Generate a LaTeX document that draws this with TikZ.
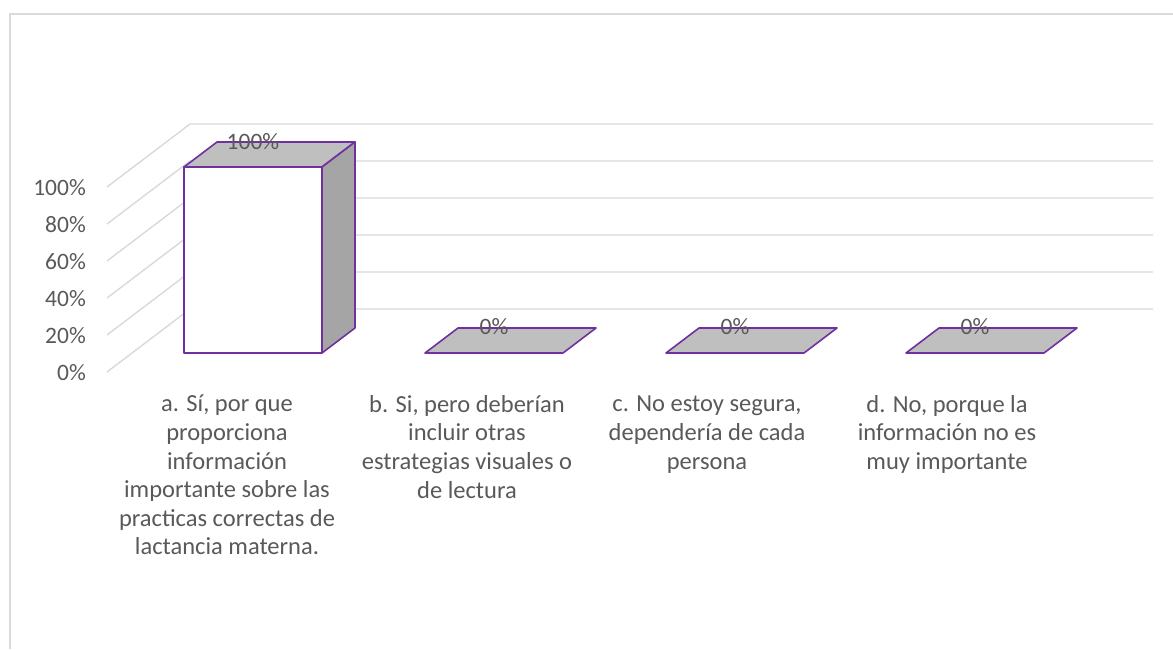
\documentclass[tikz,border=0pt]{standalone}
\usepackage{fontspec}
\setmainfont{Carlito}
\definecolor{gridgray}{HTML}{D9D9D9}
\definecolor{textgray}{HTML}{595959}
\definecolor{barpurple}{HTML}{7030A0}
\definecolor{topgray}{HTML}{BFBFBF}
\definecolor{sidegray}{HTML}{A5A5A5}
\tikzset{
  gridline/.style={draw=gridgray, line width=1.4pt},
  barface/.style={draw=barpurple, line width=1.6pt, line join=round},
  chartlabel/.style={text=textgray, inner sep=0pt, font=\fontsize{23.5}{28.6}\selectfont},
  catlabel/.style={chartlabel, align=center, anchor=north, font=\fontsize{24.5}{28.6}\selectfont},
}
\begin{document}
\begin{tikzpicture}[x=1pt, y=-1pt]
                \useasboundingbox (0,0) rectangle (1173,649);
                % Marco
                \draw[gridgray, line width=1.5pt] (10,649) -- (10,14) -- (1173,14);
                % Rejilla
                \foreach \k in {0,...,5} {
                  \draw[gridline] (107,372-37*\k) -- (190,309-37*\k) -- (1153,309-37*\k);
                }
                % Eje vertical
                \foreach \k/\lab in {0/0,1/20,2/40,3/60,4/80,5/100} {
                  \node[chartlabel, anchor=east] (eje\k) at (86,373-37*\k) {\lab\%};
                }
                % Barra a (100%)
                \draw[barface, fill=white] (184,167) rectangle (322,353);
                \draw[barface, fill=topgray] (184,167) -- (217,142) -- (355,142) -- (322,167) -- cycle;
                \draw[barface, fill=sidegray] (322,167) -- (355,142) -- (355,328) -- (322,353) -- cycle;
                \node[chartlabel] (valora) at (253,142) {100\%};
                % Barras b, c, d (0%)
                \foreach \x/\n in {425/b,666/c,906/d} {
                  \draw[barface, fill=topgray] (\x,353) -- (\x+33,328) -- (\x+171,328) -- (\x+138,353) -- cycle;
                  \node[chartlabel] (valor\n) at (\x+69,327) {0\%};
                }
                % Categorias
                \node[catlabel] (cata) at (227,395)
                  {a. Sí, por que\\proporciona\\información\\importante sobre las\\practicas correctas de\\lactancia materna.};
                \node[catlabel] (catb) at (467,395)
                  {b. Si, pero deberían\\incluir otras\\estrategias visuales o\\de lectura};
                \node[catlabel] (catc) at (707,396)
                  {c. No estoy segura,\\dependería de cada\\persona};
                \node[catlabel] (catd) at (947,395)
                  {d. No, porque la\\información no es\\muy importante};
\end{tikzpicture}
\end{document}
